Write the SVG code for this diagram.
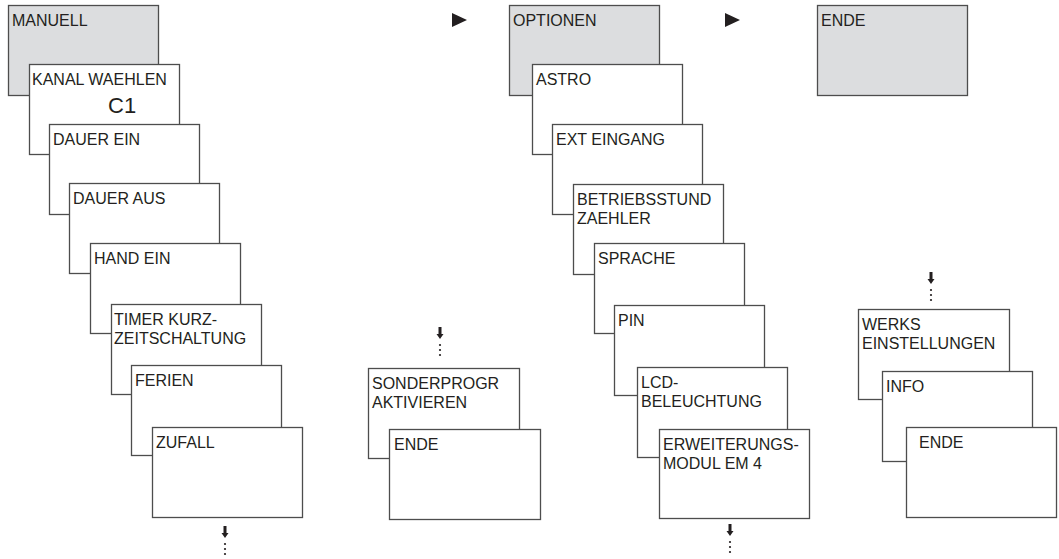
<svg xmlns="http://www.w3.org/2000/svg" width="1059" height="559" viewBox="0 0 1059 559">
<style>
  .b{fill:#ffffff;stroke:#4d4d4d;stroke-width:1.3}
  .g{fill:#dcdddf;stroke:#4d4d4d;stroke-width:1.3}
  text{font-family:"Liberation Sans",Arial,sans-serif;font-size:16px;fill:#231f20}
  .big{font-size:22px}
  .ar{fill:#231f20}
  .dot{fill:#231f20}
</style>
<defs>
  <g id="down">
    <path class="ar" d="M-1.5,0 h3 v7 h2 l-3.5,5 l-3.5,-5 h2 z"/>
    <circle class="dot" cx="0" cy="18" r="1.1"/>
    <circle class="dot" cx="0" cy="23" r="1.1"/>
    <circle class="dot" cx="0" cy="28" r="1.1"/>
  </g>
</defs>

<!-- Left column -->
<g id="manuell"><rect class="g" x="8.5" y="5.5" width="150" height="90"/><text x="12" y="26">MANUELL</text></g>
<g id="kanal-waehlen"><rect class="b" x="29.5" y="64.5" width="150" height="90"/><text x="32" y="85">KANAL WAEHLEN</text><text class="big" x="108" y="113">C1</text></g>
<g id="dauer-ein"><rect class="b" x="49.5" y="124.5" width="150" height="90"/><text x="53" y="145">DAUER EIN</text></g>
<g id="dauer-aus"><rect class="b" x="69.5" y="183.5" width="150" height="90"/><text x="73" y="204">DAUER AUS</text></g>
<g id="hand-ein"><rect class="b" x="90.5" y="243.5" width="150" height="90"/><text x="94" y="264">HAND EIN</text></g>
<g id="timer"><rect class="b" x="111.5" y="304.5" width="150" height="90"/><text x="114" y="325">TIMER KURZ-</text><text x="114" y="344">ZEITSCHALTUNG</text></g>
<g id="ferien"><rect class="b" x="131.5" y="365.5" width="150" height="90"/><text x="135" y="386">FERIEN</text></g>
<g id="zufall"><rect class="b" x="152.5" y="427.5" width="150" height="90"/><text x="156" y="448">ZUFALL</text></g>

<!-- Middle column -->
<g id="sonderprogr"><rect class="b" x="368.5" y="368.5" width="151" height="90"/><text x="372" y="389">SONDERPROGR</text><text x="372" y="408">AKTIVIEREN</text></g>
<g id="ende-mid"><rect class="b" x="389.5" y="429.5" width="151" height="90"/><text x="394" y="450">ENDE</text></g>

<!-- Options column -->
<g id="optionen"><rect class="g" x="509.5" y="5.5" width="150" height="90"/><text x="513" y="26">OPTIONEN</text></g>
<g id="astro"><rect class="b" x="532.5" y="64.5" width="150" height="90"/><text x="536" y="85">ASTRO</text></g>
<g id="ext-eingang"><rect class="b" x="552.5" y="124.5" width="150" height="90"/><text x="556" y="145">EXT EINGANG</text></g>
<g id="betriebsstund"><rect class="b" x="573.5" y="184.5" width="150" height="90"/><text x="577" y="205">BETRIEBSSTUND</text><text x="577" y="224">ZAEHLER</text></g>
<g id="sprache"><rect class="b" x="594.5" y="243.5" width="150" height="90"/><text x="598" y="264">SPRACHE</text></g>
<g id="pin"><rect class="b" x="614.5" y="305.5" width="150" height="90"/><text x="618" y="326">PIN</text></g>
<g id="lcd"><rect class="b" x="637.5" y="367.5" width="150" height="90"/><text x="641" y="388">LCD-</text><text x="641" y="407">BELEUCHTUNG</text></g>
<g id="erweiterung"><rect class="b" x="659.5" y="429.5" width="150" height="89"/><text x="663" y="450">ERWEITERUNGS-</text><text x="663" y="469">MODUL EM 4</text></g>

<!-- Right column -->
<g id="ende-top"><rect class="g" x="817.5" y="5.5" width="150" height="90"/><text x="821" y="26">ENDE</text></g>
<g id="werks"><rect class="b" x="858.5" y="309.5" width="151" height="90"/><text x="862" y="330">WERKS</text><text x="862" y="349">EINSTELLUNGEN</text></g>
<g id="info"><rect class="b" x="882.5" y="371.5" width="150" height="90"/><text x="886" y="392">INFO</text></g>
<g id="ende-right"><rect class="b" x="906.5" y="427.5" width="150" height="90"/><text x="919" y="448">ENDE</text></g>

<!-- Connectors / navigation marks -->
<g id="connectors">
  <polygon class="ar" points="452,13 467,20 452,27"/>
  <polygon class="ar" points="725,13 740,20 725,27"/>
  <use href="#down" x="225" y="526"/>
  <use href="#down" x="440" y="327"/>
  <use href="#down" x="730" y="524"/>
  <use href="#down" x="931" y="272"/>
</g>
</svg>
